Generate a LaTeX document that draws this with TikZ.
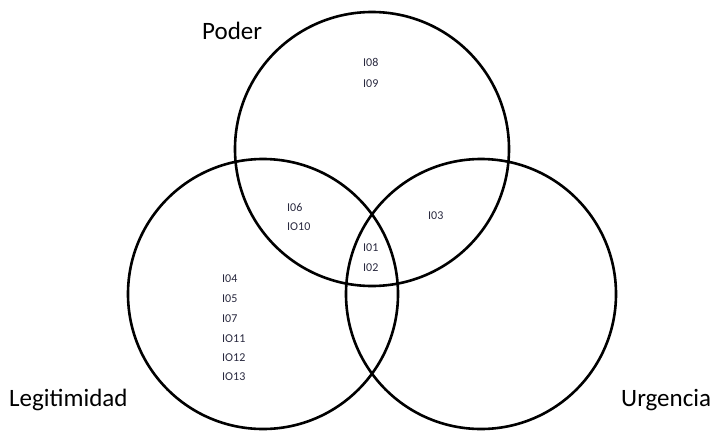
\documentclass[tikz,border=0pt]{standalone}
\usepackage{fontspec}
\setmainfont{Carlito}
\definecolor{itemink}{RGB}{40,40,62}
\begin{document}
\begin{tikzpicture}[x=1pt,y=-1pt,
  ring/.style={draw=black, line width=2.6pt, circle, inner sep=0pt},
  item/.style={font=\fontsize{12}{14}\selectfont, text=itemink, anchor=west, inner sep=0pt},
  setlabel/.style={font=\fontsize{25}{29}\selectfont, anchor=base west, inner sep=0pt}]
\useasboundingbox (0,0) rectangle (715,432);

% the three sets
\node[ring, minimum size=274pt] (poder) at (372,149) {};
\node[ring, minimum size=270pt] (legit) at (263,294) {};
\node[ring, minimum size=270pt] (urg) at (481,294) {};

% set names
\node[setlabel] (lpoder) at (202,39) {Poder};
\node[setlabel] (llegit) at (9,406) {Legitimidad};
\node[setlabel] (lurg) at (621,406) {Urgencia};

% Poder only
\node[item] (i8) at (363,62) {I08};
\node[item] (i9) at (363,84) {I09};

% Poder and Legitimidad
\node[item] (i6) at (287,207) {I06};
\node[item] (i10) at (287,227) {IO10};

% Poder and Urgencia
\node[item] (i3) at (428,216) {I03};

% all three
\node[item] (i1) at (363,248) {I01};
\node[item] (i2) at (363,268) {I02};

% Legitimidad only
\node[item] (i4) at (222,279) {I04};
\node[item] (i5) at (222,299) {I05};
\node[item] (i7) at (222,319) {I07};
\node[item] (i11) at (222,339) {IO11};
\node[item] (i12) at (222,358) {IO12};
\node[item] (i13) at (222,377) {IO13};
\end{tikzpicture}
\end{document}
